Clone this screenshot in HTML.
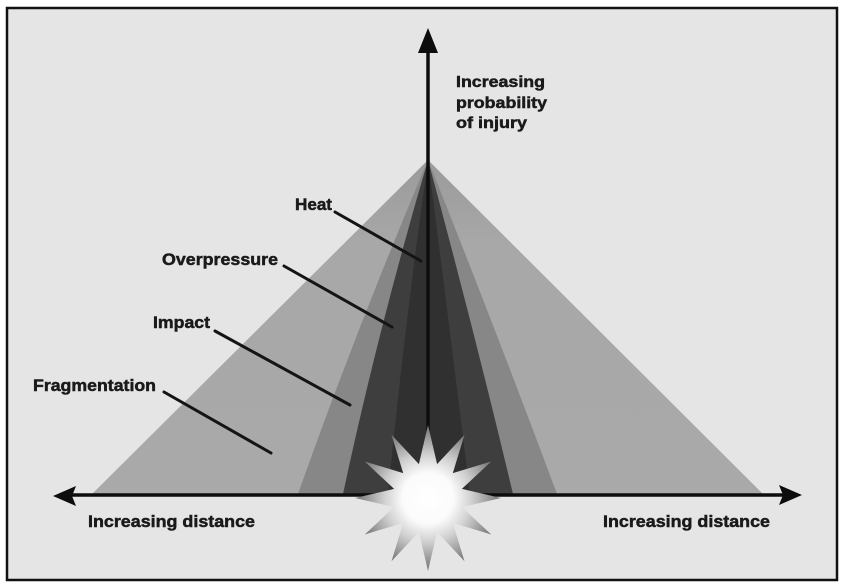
<!DOCTYPE html>
<html><head><meta charset="utf-8">
<style>
html,body{margin:0;padding:0;background:#fff;}
svg{display:block;}
text{font-family:"Liberation Sans",Arial,sans-serif;font-weight:bold;fill:#1a1a1a;stroke:#1a1a1a;stroke-width:0.5;}
</style></head>
<body>
<svg width="843" height="587" viewBox="0 0 843 587" xmlns="http://www.w3.org/2000/svg">
<defs>
<radialGradient id="sg" cx="428" cy="498" r="73" gradientUnits="userSpaceOnUse">
<stop offset="0" stop-color="#ffffff"/>
<stop offset="0.35" stop-color="#fbfbfb"/>
<stop offset="0.6" stop-color="#d0d0d0"/>
<stop offset="1" stop-color="#737373"/>
</radialGradient>
<linearGradient id="og" x1="0" y1="160" x2="0" y2="494" gradientUnits="userSpaceOnUse">
<stop offset="0" stop-color="#9a9a9a"/>
<stop offset="0.25" stop-color="#a8a8a8"/>
<stop offset="1" stop-color="#a9a9a9"/>
</linearGradient>
</defs>
<rect x="7" y="8" width="830" height="572" fill="#e5e5e5" stroke="#111" stroke-width="2.5"/>
<!-- bands -->
<polygon points="428,160 92,494 763,494" fill="url(#og)"/>
<path d="M428,160 Q356,330 298,494 L557,494 Q496,330 428,160 Z" fill="#878787"/>
<path d="M428,160 Q378,330 343,494 L513,494 Q474,330 428,160 Z" fill="#3e3e3e"/>
<path d="M428,160 Q404,330 388,494 L470,494 Q450,330 428,160 Z" fill="#303030"/>
<!-- vertical axis -->
<line x1="428" y1="48" x2="428" y2="460" stroke="#0d0d0d" stroke-width="3.5"/>
<polygon points="428,28 418,53 438,53" fill="#0d0d0d"/>
<!-- horizontal axis -->
<line x1="70" y1="495" x2="785" y2="495" stroke="#0d0d0d" stroke-width="3.5"/>
<polygon points="53,496 76,486 72,496 76,506" fill="#0d0d0d"/>
<polygon points="802,495 779,485 783,495 779,505" fill="#0d0d0d"/>
<!-- star -->
<polygon fill="url(#sg)" points="428.0,425.0 437.1,464.1 464.5,434.8 452.8,473.1 491.2,461.5 461.9,488.9 501.0,498.0 461.9,507.1 491.2,534.5 452.8,522.9 464.5,561.2 437.1,531.9 428.0,571.0 418.9,531.9 391.5,561.2 403.2,522.9 364.8,534.5 394.1,507.1 355.0,498.0 394.1,488.9 364.8,461.5 403.2,473.1 391.5,434.8 418.9,464.1"/>
<!-- leader lines -->
<g stroke="#141414" stroke-width="3" stroke-linecap="round">
<line x1="335" y1="212" x2="421" y2="261"/>
<line x1="284" y1="266" x2="392" y2="327"/>
<line x1="215" y1="331" x2="350" y2="405"/>
<line x1="164" y1="392" x2="271" y2="453"/>
</g>
<!-- labels -->
<text x="456" y="87" font-size="16" textLength="89" lengthAdjust="spacingAndGlyphs">Increasing</text>
<text x="456" y="108" font-size="16" textLength="91" lengthAdjust="spacingAndGlyphs">probability</text>
<text x="456" y="128" font-size="16" textLength="71" lengthAdjust="spacingAndGlyphs">of injury</text>
<text x="295" y="210" font-size="17" textLength="37" lengthAdjust="spacingAndGlyphs">Heat</text>
<text x="162" y="265" font-size="17" textLength="116" lengthAdjust="spacingAndGlyphs">Overpressure</text>
<text x="153" y="328" font-size="17" textLength="57" lengthAdjust="spacingAndGlyphs">Impact</text>
<text x="33" y="391" font-size="17" textLength="123" lengthAdjust="spacingAndGlyphs">Fragmentation</text>
<text x="88" y="527" font-size="17" textLength="167" lengthAdjust="spacingAndGlyphs">Increasing distance</text>
<text x="603" y="527" font-size="17" textLength="167" lengthAdjust="spacingAndGlyphs">Increasing distance</text>
</svg>
</body></html>
